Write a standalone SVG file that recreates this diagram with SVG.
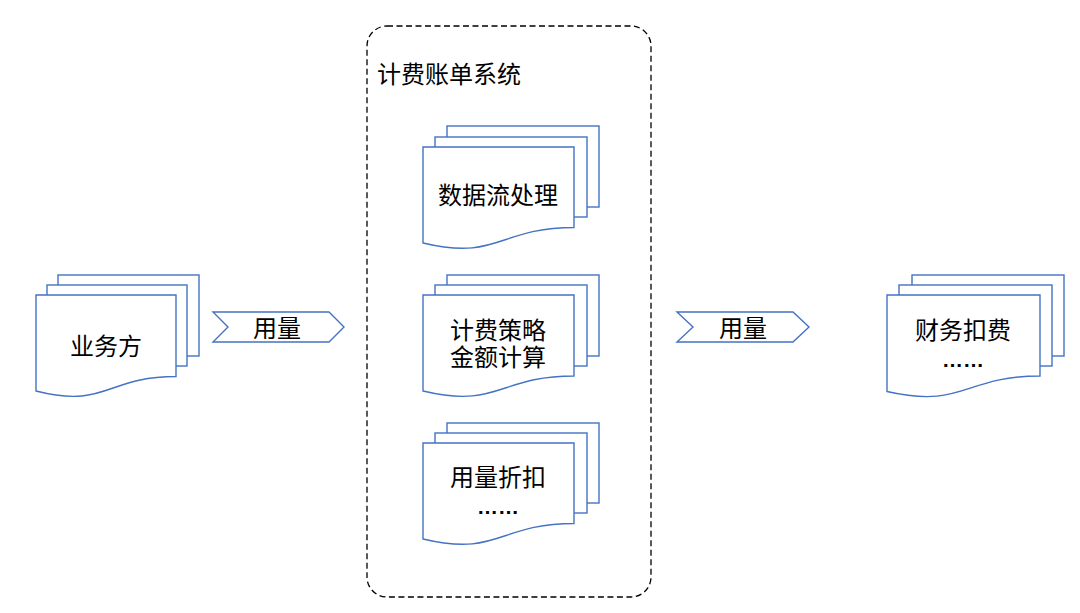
<svg xmlns="http://www.w3.org/2000/svg" width="1080" height="613" viewBox="0 0 1080 613">
<style>
.pg{fill:#fff;stroke:#4472C4;stroke-width:1.4}
.t{font-family:"Noto Sans CJK SC","Microsoft YaHei",sans-serif;font-size:24px;fill:#000;text-anchor:middle}
.d{font-family:"Liberation Sans",Arial,sans-serif;font-size:21px;font-weight:bold;fill:#000;text-anchor:middle}
.box{fill:none;stroke:#000;stroke-width:1.3;stroke-dasharray:6 3.5}
</style>
<rect width="1080" height="613" fill="#fff"/>
<g id="billing-system">
<rect class="box" x="367" y="26" width="284" height="571" rx="20" ry="20"/>
<text class="t" x="377" y="83" style="text-anchor:start">计费账单系统</text>
</g>
<g id="connectors">
<g id="usage-in">
<path class="pg" d="M213,312 L329,312 L344,327 L329,342 L213,342 L228,327 Z"/>
<text class="t" x="277" y="337">用量</text>
</g>
<g id="usage-out">
<path class="pg" d="M677,312 L793,312 L809,327 L793,342 L677,342 L693,327 Z"/>
<text class="t" x="743" y="337">用量</text>
</g>
</g>
<g id="business">
<rect class="pg" x="58" y="275" width="141" height="81"/>
<rect class="pg" x="47" y="285" width="140" height="81"/>
<path class="pg" d="M36,295 H176 V376.5 C106,376.5 106,409 36,391 Z"/>
<text class="t" x="106" y="355">业务方</text>
</g>
<g id="dataflow">
<rect class="pg" x="447" y="126" width="152" height="81"/>
<rect class="pg" x="435" y="137" width="152" height="80"/>
<path class="pg" d="M423,147 H574 V227.5 C498.5,227.5 498.5,261 423,243 Z"/>
<text class="t" x="498" y="204">数据流处理</text>
</g>
<g id="pricing">
<rect class="pg" x="447" y="275" width="152" height="81"/>
<rect class="pg" x="435" y="285" width="152" height="81"/>
<path class="pg" d="M423,295 H574 V376 C498.5,376 498.5,409 423,391 Z"/>
<text class="t"><tspan x="498" y="339">计费策略</tspan><tspan x="498" y="366">金额计算</tspan></text>
</g>
<g id="discount">
<rect class="pg" x="447" y="423" width="152" height="80"/>
<rect class="pg" x="435" y="433" width="152" height="80"/>
<path class="pg" d="M423,443 H574 V523.5 C498.5,523.5 498.5,557 423,539 Z"/>
<text class="t" x="498" y="486">用量折扣</text>
<text class="d" x="498" y="514">……</text>
</g>
<g id="finance">
<rect class="pg" x="912" y="275" width="152" height="81"/>
<rect class="pg" x="899" y="285" width="153" height="81"/>
<path class="pg" d="M887,295 H1040 V376 C963.5,376 963.5,409 887,391.5 Z"/>
<text class="t" x="963" y="339">财务扣费</text>
<text class="d" x="963" y="367">……</text>
</g>
</svg>
